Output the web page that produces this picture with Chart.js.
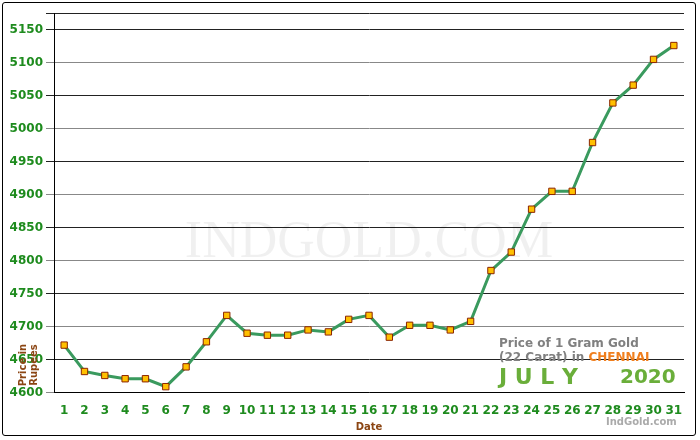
<!DOCTYPE html>
<html><head><meta charset="utf-8">
<script src="https://cdn.jsdelivr.net/npm/chart.js@4/dist/chart.umd.min.js"></script>
<style>
body{margin:0;background:#fff;}
#wrap{position:absolute;left:2px;top:2px;width:694px;height:434px;border:1px solid #000;border-radius:3px;box-sizing:border-box;}
canvas{position:absolute;left:0;top:0;}
</style></head><body>
<div id="wrap"><canvas id="c" width="692" height="432"></canvas></div>
<script>
const dates = Array.from({length:31},(_,i)=>String(i+1));
const prices = [4672,4632,4626,4621,4621,4609,4639,4677,4717,4690,4687,4687,4695,4692,4711,4717,4684,4702,4702,4695,4708,4785,4813,4878,4905,4905,4979,5039,5066,5105,5126];
const yMin = 4600, yMax = 5175, yStep = 50;

const deco = {
  id:'deco',
  beforeDatasetsDraw(chart){
    const {ctx, chartArea:a} = chart;
    ctx.save();
    ctx.font = '52px "Liberation Serif"';
    ctx.fillStyle = 'rgba(0,0,0,0.06)';
    ctx.textAlign='center'; ctx.textBaseline='middle';
    ctx.fillText('IndGold.com'.toUpperCase(), (a.left+a.right)/2, 240);
    // y title
    ctx.save();
    ctx.translate(20, 362); ctx.rotate(-Math.PI/2);
    ctx.font='bold 10px "DejaVu Sans"'; ctx.fillStyle='#8B4513';
    ctx.fillText('Price in', 0, 0);
    ctx.fillText('Rupees', 0, 11);
    ctx.restore();
    ctx.font = 'bold 12px "DejaVu Sans"';
    ctx.textAlign='left';
    ctx.fillStyle='#808080';
    ctx.fillText('Price of 1 Gram Gold', 496, 341);
    ctx.fillText('(22 Carat) in ', 496, 355);
    const w = ctx.measureText('(22 Carat) in ').width;
    ctx.fillStyle='#F07F1E';
    ctx.fillText('CHENNAI', 496+w, 355);
    ctx.font = 'bold 22px "DejaVu Sans"';
    ctx.fillStyle='#6AAE3A';
    ctx.fillText('J U L Y', 496, 375);
    ctx.font = 'bold 20px "DejaVu Sans"';
    ctx.fillText('2020', 617, 375);
    ctx.font = 'bold 10px "DejaVu Sans"';
    ctx.fillStyle='#AAAAAA';
    ctx.fillText('IndGold.com', 603, 419);
    ctx.restore();
  }
};

new Chart(document.getElementById('c'), {
  type:'line',
  data:{labels:dates, datasets:[{
    data:prices, borderColor:'#3A9A5E', borderWidth:3, tension:0,
    pointStyle:'rect', pointRadius:4.5, pointBackgroundColor:'#FFC000',
    pointBorderColor:'#8B2500', pointBorderWidth:1
  }]},
  options:{
    responsive:false, animation:false,
    layout:{padding:{top:6,right:11,left:0,bottom:2}},
    plugins:{legend:{display:false}, tooltip:{enabled:false}},
    scales:{
      x:{offset:true, grid:{display:false},
        border:{color:'#000'},
        ticks:{color:'#1E8B1E', font:{family:'DejaVu Sans', size:12, weight:'bold'}, autoSkip:false, maxRotation:0},
        title:{display:true, text:'Date', color:'#8B4513', font:{family:'DejaVu Sans', size:10, weight:'bold'}, padding:0}},
      y:{min:yMin, max:yMax,
        afterFit:s=>{s.width=51;},
        ticks:{stepSize:yStep, color:'#1E8B1E', font:{family:'DejaVu Sans', size:12, weight:'bold'},
          callback:v=> v===yMax ? '' : v},
        grid:{color:c=> (c.tick && c.tick.value%100===0) ? '#888' : '#222', lineWidth:1},
        border:{color:'#000'}}
    }
  },
  plugins:[deco]
});
</script></body></html>
